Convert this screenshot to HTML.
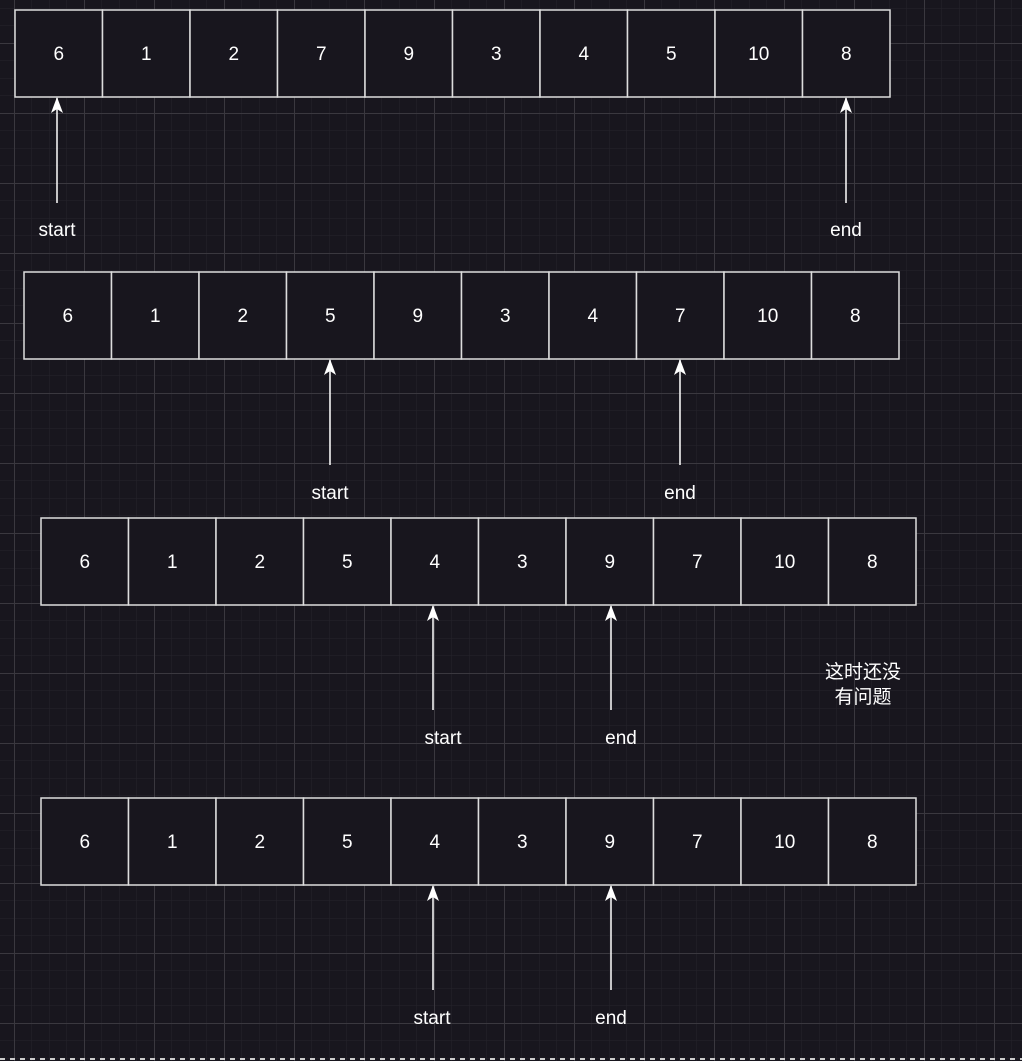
<!DOCTYPE html>
<html><head><meta charset="utf-8"><style>
html,body{margin:0;padding:0;background:#18161e;}
svg{display:block;}
text{font-family:"Liberation Sans","Noto Sans CJK SC",sans-serif;font-size:19px;fill:#fff;}
</style></head><body>
<svg width="1022" height="1061" xmlns="http://www.w3.org/2000/svg">
<defs>
<pattern id="minor" width="17.5" height="17.5" patternUnits="userSpaceOnUse" x="14" y="-27">
<path d="M0 0H17.5M0 0V17.5" stroke="#26242c" stroke-width="1" fill="none"/>
</pattern>
<pattern id="major" width="70" height="70" patternUnits="userSpaceOnUse" x="14" y="-27">
<path d="M0 0.5H70M0.5 0V70" stroke="#3a383f" stroke-width="1" fill="none"/>
</pattern>
<marker id="ah" viewBox="0 0 16 12" refX="15" refY="6" markerWidth="16" markerHeight="12" markerUnits="userSpaceOnUse" orient="auto">
<path d="M0 0L16 6L0 12L4 6Z" fill="#fff"/>
</marker>
</defs>
<rect width="1022" height="1061" fill="#18161e"/>
<rect width="1022" height="1061" fill="url(#minor)"/>
<rect width="1022" height="1061" fill="url(#major)"/>
<line x1="0" y1="1059" x2="1022" y2="1059" stroke="#ccc" stroke-width="2" stroke-dasharray="5,5"/>
<g id="rows" stroke="#ddd" stroke-width="1.5" fill="#18161e"></g>
<g id="arrows" stroke="#fff" stroke-width="1.5" fill="none">
<line x1="57" y1="203" x2="57" y2="98" marker-end="url(#ah)"/>
<line x1="846" y1="203" x2="846" y2="98" marker-end="url(#ah)"/>
<line x1="330" y1="465" x2="330" y2="360" marker-end="url(#ah)"/>
<line x1="680" y1="465" x2="680" y2="360" marker-end="url(#ah)"/>
<line x1="433" y1="710" x2="433" y2="606" marker-end="url(#ah)"/>
<line x1="611" y1="710" x2="611" y2="606" marker-end="url(#ah)"/>
<line x1="433" y1="990" x2="433" y2="886" marker-end="url(#ah)"/>
<line x1="611" y1="990" x2="611" y2="886" marker-end="url(#ah)"/>
</g>
<g text-anchor="middle">
<text x="57" y="236">start</text><text x="846" y="236">end</text>
<text x="330" y="499">start</text><text x="680" y="499">end</text>
<text x="443" y="744">start</text><text x="621" y="744">end</text>
<text x="432" y="1024">start</text><text x="611" y="1024">end</text>
<text x="863" y="678">这时还没</text><text x="863" y="703">有问题</text>
</g>
<g id="t" text-anchor="middle"></g>
</svg>
<script>
var rows=[[15,10,[6,1,2,7,9,3,4,5,10,8]],[24,272,[6,1,2,5,9,3,4,7,10,8]],[41,518,[6,1,2,5,4,3,9,7,10,8]],[41,798,[6,1,2,5,4,3,9,7,10,8]]];
var g=document.getElementById('rows'),t=document.getElementById('t'),ns="http://www.w3.org/2000/svg";
rows.forEach(function(r){r[2].forEach(function(v,i){var x=r[0]+i*87.5;
var re=document.createElementNS(ns,'rect');re.setAttribute('x',x);re.setAttribute('y',r[1]);re.setAttribute('width',87.5);re.setAttribute('height',87);g.appendChild(re);
var tx=document.createElementNS(ns,'text');tx.setAttribute('x',x+43.75);tx.setAttribute('y',r[1]+50);tx.textContent=v;t.appendChild(tx);});});
</script>
</body></html>
